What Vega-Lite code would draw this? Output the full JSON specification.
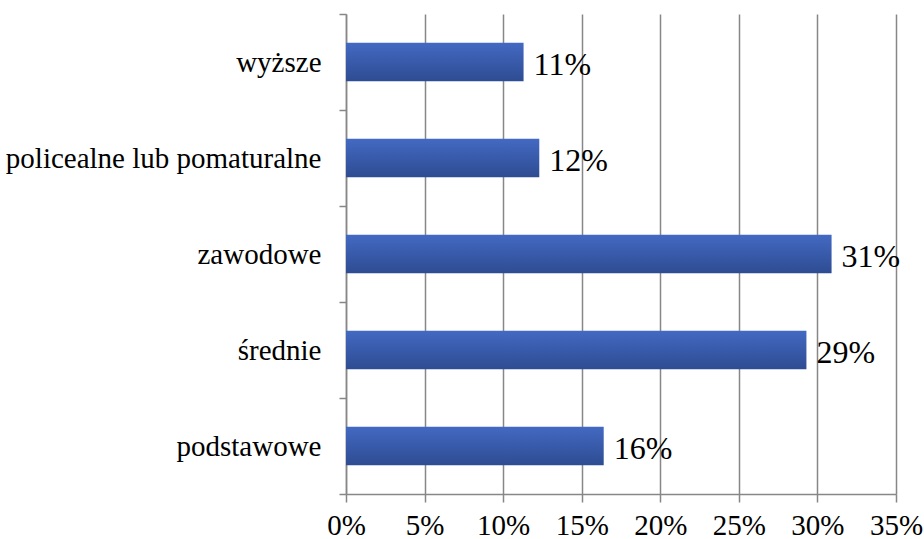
{
  "$schema": "https://vega.github.io/schema/vega-lite/v6.json",
  "autosize": "none",
  "width": 550,
  "height": 480,
  "padding": {"left": 346, "top": 14, "right": 28, "bottom": 45},
  "background": "white",
  "config": {
    "view": {"stroke": null},
    "font": "Liberation Serif"
  },
  "data": {
    "values": [
      {"kategoria": "wyższe", "udzial": 0.113, "etykieta": "11%"},
      {"kategoria": "policealne lub pomaturalne", "udzial": 0.123, "etykieta": "12%"},
      {"kategoria": "zawodowe", "udzial": 0.309, "etykieta": "31%"},
      {"kategoria": "średnie", "udzial": 0.293, "etykieta": "29%"},
      {"kategoria": "podstawowe", "udzial": 0.164, "etykieta": "16%"}
    ]
  },
  "encoding": {
    "y": {
      "field": "kategoria",
      "type": "nominal",
      "sort": null,
      "title": null,
      "scale": {"paddingInner": 0, "paddingOuter": 0},
      "axis": {
        "tickBand": "extent",
        "domainColor": "#878787",
        "domainWidth": 1.5,
        "tickColor": "#878787",
        "tickWidth": 1.5,
        "tickSize": 7,
        "labelFont": "Liberation Serif",
        "labelFontSize": 29,
        "labelColor": "black",
        "labelPadding": 18,
        "labelLimit": 400
      }
    }
  },
  "layer": [
    {
      "mark": {
        "type": "bar",
        "height": {"band": 0.4},
        "color": {
          "gradient": "linear",
          "x1": 0, "y1": 0, "x2": 0, "y2": 1,
          "stops": [
            {"offset": 0, "color": "#4369C2"},
            {"offset": 1, "color": "#2E4C92"}
          ]
        }
      },
      "encoding": {
        "x": {
          "field": "udzial",
          "type": "quantitative",
          "title": null,
          "scale": {"domain": [0, 0.35], "nice": false},
          "axis": {
            "format": ".0%",
            "values": [0, 0.05, 0.1, 0.15, 0.2, 0.25, 0.3, 0.35],
            "grid": true,
            "gridColor": "#878787",
            "gridWidth": 1.5,
            "domainColor": "#878787",
            "domainWidth": 1.5,
            "tickColor": "#878787",
            "tickWidth": 1.5,
            "tickSize": 8,
            "labelFont": "Liberation Serif",
            "labelFontSize": 29,
            "labelColor": "black",
            "labelPadding": 9,
            "labelFlush": false
          }
        }
      }
    },
    {
      "mark": {
        "type": "text",
        "align": "left",
        "baseline": "middle",
        "dx": 10,
        "dy": 3,
        "fontSize": 32,
        "font": "Liberation Serif",
        "color": "black"
      },
      "encoding": {
        "x": {"field": "udzial", "type": "quantitative"},
        "text": {"field": "etykieta"}
      }
    }
  ]
}
